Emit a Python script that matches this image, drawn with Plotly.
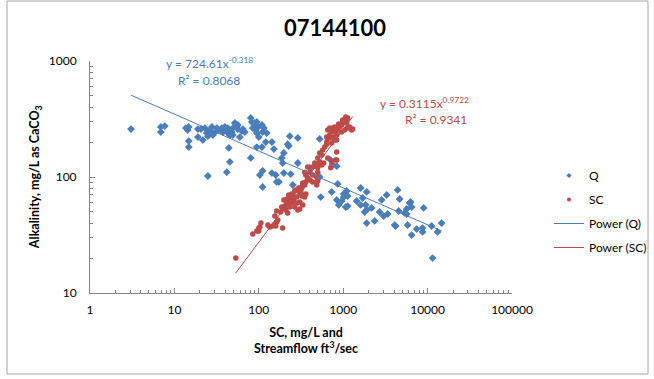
import numpy as np
import plotly.graph_objects as go

# ---------------- data ----------------
q_flow = [3.06, 6.9, 6.9, 7.7, 13.7, 14.4, 14.8, 14.8, 14.8, 19.0, 20.6, 19.0, 21.7, 24.9,
          23.0, 24.2, 24.9, 26.3, 27.8, 28.6, 29.3, 31.8, 32.7, 35.5, 36.5, 37.5, 39.6, 41.8,
          43.0, 43.0, 45.4, 47.9, 49.2, 49.2, 52.0, 54.9, 56.4, 56.4, 59.6, 62.9, 64.7, 68.3,
          44.2, 45.4, 41.8, 80.4, 82.6, 80.4, 89.7, 94.7, 84.9, 92.1, 97.3, 109, 115, 94.7,
          100, 111, 124, 94.7, 109, 121, 143, 151, 111, 103, 111, 143, 159, 163, 173, 187,
          198, 192, 198, 239, 253, 233, 290, 220, 226, 290, 402, 527, 542, 527, 711, 751,
          838, 861, 731, 838, 885, 960, 1014, 1014, 1071, 1131, 1100, 1131, 1444, 1611, 1702,
          1897, 1611, 1845, 1795, 1897, 1897, 2173, 2358, 2704, 2857, 3015, 3273, 3365, 4067,
          4181, 4416, 4667, 4539, 5346, 5641, 5641, 6124, 6295, 6471, 5796, 6471, 7413, 8730,
          8730, 8974, 11150, 11460, 13140, 14650]
q_alk = [259, 270, 244, 275, 264, 254, 270, 204, 181, 259, 259, 221, 208, 102,
         264, 239, 225, 254, 270, 230, 239, 264, 254, 254, 264, 244, 270, 254,
         264, 239, 230, 244, 230, 264, 292, 275, 259, 281, 221, 249, 259, 244,
         178, 135, 110, 323, 298, 146, 292, 298, 264, 254, 270, 281, 264, 239,
         221, 244, 239, 181, 181, 200, 200, 174, 113, 104, 82, 108, 104, 90.6, 90.6, 146,
         161, 132, 108, 106, 85.3, 225, 217, 192, 185, 132, 120, 100, 67.2, 213, 140, 127,
         124, 87.1, 74.3, 63.4, 57.4, 62.1, 71.3, 67.2, 55.1, 56.2, 75.7, 68.5, 62.1, 80.4, 65.9,
         74.3, 57.4, 57.4, 49.9, 52.0, 40.1, 54.1, 41.8, 49.9, 63.4, 46.1, 70.0, 48.0, 38.5,
         37.8, 77.3, 64.6, 50.9, 49.0, 48.0, 53.0, 59.7, 60.9, 55.1, 38.5, 31.6, 35.6, 36.3,
         33.6, 54.1, 37.8, 20.0, 33.6, 40.1]

sc_conc = [53.4, 84.9, 94.7, 100, 103, 106, 100, 128, 135, 146, 155, 163, 159, 168, 155,
           163, 182, 192, 187, 192, 203, 214, 209, 220, 198, 214, 220, 233, 246, 239, 253,
           226, 260, 267, 282, 306, 290, 306, 332, 282, 306, 274, 297, 323, 314, 332, 350,
           360, 323, 350, 360, 380, 402, 360, 435, 486, 499, 246, 267, 323, 332, 314, 350,
           380, 402, 435, 460, 486, 499, 527, 557, 499, 435, 486, 499, 527, 557, 572, 604,
           638, 638, 656, 692, 731, 751, 588, 656, 731, 815, 838, 711, 838, 656, 692, 731,
           751, 793, 815, 861, 909, 960, 986, 1042, 1100, 1131, 960, 1042, 1131, 1194, 1100,
           986, 885, 838, 751, 692, 1295, 793, 638, 731, 838, 1071, 1261]
sc_alk = [20.0, 32.3, 34.2, 34.2, 37.1, 40.1, 36.3, 38.5, 37.1, 37.8, 39.3, 41.0, 37.8, 42.6, 46.1,
          50.9, 49.9, 36.3, 55.1, 54.1, 56.2, 58.5, 52.0, 49.0, 63.4, 64.6, 60.9, 55.1, 59.7, 65.9, 70.0,
          70.0, 63.4, 55.1, 59.7, 60.9, 52.0, 53.0, 57.4, 67.2, 72.8, 77.3, 80.4, 82.0, 75.7, 88.7, 85.3,
          90.6, 68.5, 67.2, 71.3, 98.0, 94.2, 104, 90.6, 85.3, 92.4, 71.3, 75.7, 80.4, 85.3, 72.8, 110,
          122, 110, 122, 132, 127, 120, 135, 127, 110, 104, 100, 146, 161, 155, 171, 181,
          200, 221, 217, 230, 244, 254, 132, 146, 135, 140, 140, 120, 164, 254, 264, 254,
          264, 270, 244, 254, 270, 281, 292, 298, 310, 323, 244, 254, 264, 270, 292,
          310, 286, 230, 221, 217, 259, 208, 192, 196, 208, 329, 254]

# power trendlines (Excel equations) and the x-extent they were drawn over
q_coef, q_exp, q_xrange = 724.61, -0.318, [3.06, 14650]
sc_coef, sc_exp, sc_xrange = 0.3115, 0.9722, [53, 1300]

x_tickvals = [1, 10, 100, 1000, 10000, 100000]
y_tickvals = [10, 100, 1000]

BLUE = "#4A7EBB"
RED = "#BE4B48"
AXIS = "#868686"
FONT = "Lato"

q_line_x = np.logspace(np.log10(q_xrange[0]), np.log10(q_xrange[1]), 50)
sc_line_x = np.logspace(np.log10(sc_xrange[0]), np.log10(sc_xrange[1]), 50)

fig = go.Figure()
fig.add_trace(go.Scatter(x=q_flow, y=q_alk, mode="markers", name="Q", showlegend=False,
                         marker=dict(symbol="diamond", size=6, color=BLUE)))
fig.add_trace(go.Scatter(x=sc_conc, y=sc_alk, mode="markers", name="SC", showlegend=False,
                         marker=dict(symbol="circle", size=5.5, color=RED)))
# legend entries (Excel draws small legend markers)
fig.add_trace(go.Scatter(x=[None], y=[None], mode="markers", name="Q", legendgroup="a",
                         marker=dict(symbol="diamond", size=4, color=BLUE)))
fig.add_trace(go.Scatter(x=[None], y=[None], mode="markers", name="SC", legendgroup="b",
                         marker=dict(symbol="circle", size=4, color=RED)))
fig.add_trace(go.Scatter(x=q_line_x, y=q_coef * q_line_x ** q_exp, mode="lines",
                         name="Power (Q)", legendgroup="c", line=dict(color=BLUE, width=1)))
fig.add_trace(go.Scatter(x=sc_line_x, y=sc_coef * sc_line_x ** sc_exp, mode="lines",
                         name="Power (SC)", legendgroup="d", line=dict(color=RED, width=1)))

axis_common = dict(type="log", showgrid=False, zeroline=False, showline=True,
                   linecolor=AXIS, linewidth=1, ticks="inside", ticklen=5, tickcolor=AXIS,
                   tickfont=dict(family=FONT, size=12, color="#000000"),
                   minor=dict(ticks="inside", ticklen=3, tickcolor=AXIS, dtick="D1", showgrid=False))

fig.update_xaxes(range=[0, 5], tickvals=x_tickvals, ticktext=[str(v) for v in x_tickvals],
                 ticklabelstandoff=6, **axis_common)
fig.update_yaxes(range=[1, 3], tickvals=y_tickvals, ticktext=[str(v) for v in y_tickvals],
                 ticklabelstandoff=10, **axis_common)

fig.update_layout(
    width=654, height=379,
    margin=dict(l=90, r=142, t=61, b=86, autoexpand=False),
    paper_bgcolor="white", plot_bgcolor="white",
    font=dict(family=FONT, size=12, color="#000000"),
    title=dict(text="<b>07144100</b>", x=335 / 654, xref="container", xanchor="center",
               y=1 - 28 / 379, yref="container", yanchor="middle",
               font=dict(family=FONT, size=22, color="#000000")),
    legend=dict(x=549 / 654, xref="container", y=1 - 161 / 379, yref="container",
                xanchor="left", yanchor="top", tracegroupgap=5,
                font=dict(family=FONT, size=12, color="#000000"), bgcolor="rgba(0,0,0,0)"),
    showlegend=True,
)

annotations = [
    dict(text="y = 724.61x<sup>-0.318</sup>", x=0.282, y=0.991, font=dict(color=BLUE)),
    dict(text="R² = 0.8068", x=0.282, y=0.914, font=dict(color=BLUE)),
    dict(text="y = 0.3115x<sup>0.9722</sup>", x=0.903, y=0.819, xanchor="right", font=dict(color=RED)),
    dict(text="R² = 0.9341", x=0.899, y=0.75, xanchor="right", font=dict(color=RED)),
    dict(text="<b>Alkalinity, mg/L as CaCO<sub>3</sub></b>", x=-0.130, y=0.5, textangle=-90,
         font=dict(color="#000000", size=12.5)),
    dict(text="<b>SC, mg/L and<br>Streamflow ft<sup>3</sup>/sec</b>", x=0.512, y=-0.203,
         font=dict(color="#000000", size=12.5)),
]
for a in annotations:
    a.setdefault("xanchor", "center")
    a.update(xref="paper", yref="paper", yanchor="middle", showarrow=False)
    a["font"].setdefault("size", 12)
    a["font"]["family"] = FONT
fig.update_layout(annotations=annotations)

# chart-area border
fig.add_shape(type="rect", xref="paper", yref="paper",
              x0=(7 - 90) / 422, x1=(648 - 90) / 422, y0=(293 - 374) / 232, y1=(293 - 1) / 232,
              line=dict(color="#A6A6A6", width=1), fillcolor="rgba(0,0,0,0)", layer="below")

fig.write_html("out.html", config={"displayModeBar": False},
               post_script="document.body.style.margin='0';")
